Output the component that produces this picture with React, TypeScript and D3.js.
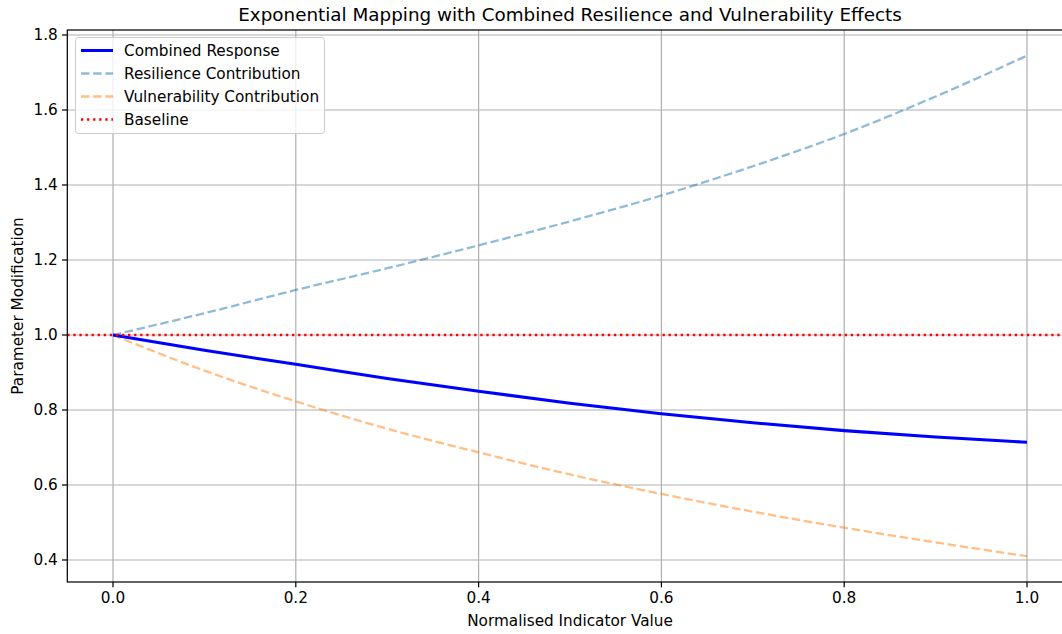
import React from "react";
import * as d3 from "d3";

const xValues = [0, 0.1, 0.2, 0.3, 0.4, 0.5, 0.6, 0.7, 0.8, 0.9, 1.0];
const combined = [1.0, 0.959, 0.922, 0.884, 0.85, 0.818, 0.79, 0.766, 0.745, 0.728, 0.714];
const resilience = [1.0, 1.058, 1.12, 1.178, 1.239, 1.303, 1.372, 1.45, 1.536, 1.636, 1.745];
const vulnerability = [1.0, 0.905, 0.823, 0.75, 0.687, 0.628, 0.576, 0.529, 0.486, 0.447, 0.41];
const baselineValue = 1.0;
const xTicks = [0.0, 0.2, 0.4, 0.6, 0.8, 1.0];
const yTicks = [0.4, 0.6, 0.8, 1.0, 1.2, 1.4, 1.6, 1.8];
const legendLabels = ["Combined Response", "Resilience Contribution", "Vulnerability Contribution", "Baseline"];

const W = 1062;
const H = 634;
const left = 67.3;
const right = 1072.7;
const top = 30;
const bottom = 582;
const FONT = "DejaVu Sans, sans-serif";
const PT = 1.528;

export default function App() {
  const x = d3.scaleLinear().domain([-0.05, 1.05]).range([left, right]);
  const y = d3.scaleLinear().domain([0.3413, 1.8133]).range([bottom, top]);

  const mk = (vals: number[]) =>
    d3
      .line<number>()
      .x((_, i) => x(xValues[i]))
      .y((v) => y(v))
      .curve(d3.curveMonotoneX)(vals) || "";

  const grid = "#b0b0b0";
  const dashed = `${5.55 * PT},${2.4 * PT}`;
  const dotted = `${1.5 * PT},${2.475 * PT}`;
  const series = [
    { label: legendLabels[0], color: "#0000ff", width: 2 * PT, dash: "", opacity: 1 },
    { label: legendLabels[1], color: "#1f77b4", width: 1.5 * PT, dash: dashed, opacity: 0.5 },
    { label: legendLabels[2], color: "#ff7f0e", width: 1.5 * PT, dash: dashed, opacity: 0.5 },
    { label: legendLabels[3], color: "#ff0000", width: 1.5 * PT, dash: dotted, opacity: 1 },
  ];
  const fs = 10 * PT;
  const sw = 0.8 * PT;
  const tl = 3.5 * PT;

  return (
    <svg
      width={W}
      height={H}
      style={{ position: "absolute", left: 0, top: 0, background: "#fff" }}
      fontFamily={FONT}
    >
      <defs>
        <clipPath id="plotclip">
          <rect x={left} y={top} width={right - left} height={bottom - top} />
        </clipPath>
      </defs>
      {xTicks.map((t) => (
        <line key={"gx" + t} x1={x(t)} x2={x(t)} y1={top} y2={bottom} stroke={grid} strokeWidth={sw} />
      ))}
      {yTicks.map((t) => (
        <line key={"gy" + t} x1={left} x2={right} y1={y(t)} y2={y(t)} stroke={grid} strokeWidth={sw} />
      ))}
      <g clipPath="url(#plotclip)">
        <path d={mk(resilience)} fill="none" stroke="#1f77b4" strokeOpacity={0.5} strokeWidth={1.5 * PT} strokeDasharray={dashed} />
        <path d={mk(vulnerability)} fill="none" stroke="#ff7f0e" strokeOpacity={0.5} strokeWidth={1.5 * PT} strokeDasharray={dashed} />
        <path d={mk(combined)} fill="none" stroke="#0000ff" strokeWidth={2 * PT} />
        <line x1={left} x2={right} y1={y(baselineValue)} y2={y(baselineValue)} stroke="#ff0000" strokeWidth={1.5 * PT} strokeDasharray={dotted} />
      </g>
      <rect x={left} y={top} width={right - left} height={bottom - top} fill="none" stroke="#000" strokeWidth={sw} />
      {xTicks.map((t) => (
        <g key={"tx" + t}>
          <line x1={x(t)} x2={x(t)} y1={bottom} y2={bottom + tl} stroke="#000" strokeWidth={sw} />
          <text x={x(t)} y={bottom + 21} textAnchor="middle" fontSize={fs} fill="#000">
            {t.toFixed(1)}
          </text>
        </g>
      ))}
      {yTicks.map((t) => (
        <g key={"ty" + t}>
          <line x1={left - tl} x2={left} y1={y(t)} y2={y(t)} stroke="#000" strokeWidth={sw} />
          <text x={left - 9.5} y={y(t)} dy="0.35em" textAnchor="end" fontSize={fs} fill="#000">
            {t.toFixed(1)}
          </text>
        </g>
      ))}
      <text x={(left + right) / 2} y={21} textAnchor="middle" fontSize={12 * PT} fill="#000">
        Exponential Mapping with Combined Resilience and Vulnerability Effects
      </text>
      <text x={(left + right) / 2} y={626} textAnchor="middle" fontSize={fs} fill="#000">
        Normalised Indicator Value
      </text>
      <text
        transform={`translate(23,${(top + bottom) / 2}) rotate(-90)`}
        textAnchor="middle"
        fontSize={fs}
        fill="#000"
      >
        Parameter Modification
      </text>
      <g>
        <rect x={75.5} y={37.5} width={249} height={96} rx={3} fill="#fff" fillOpacity={0.8} stroke="#cccccc" strokeWidth={1} />
        {series.map((s, i) => {
          const cy = 50.5 + i * 23;
          return (
            <g key={s.label}>
              <line
                x1={81}
                x2={113}
                y1={cy}
                y2={cy}
                stroke={s.color}
                strokeOpacity={s.opacity}
                strokeWidth={s.width}
                strokeDasharray={s.dash || undefined}
              />
              <text x={124} y={cy} dy="0.35em" fontSize={fs} fill="#000">
                {s.label}
              </text>
            </g>
          );
        })}
      </g>
    </svg>
  );
}
